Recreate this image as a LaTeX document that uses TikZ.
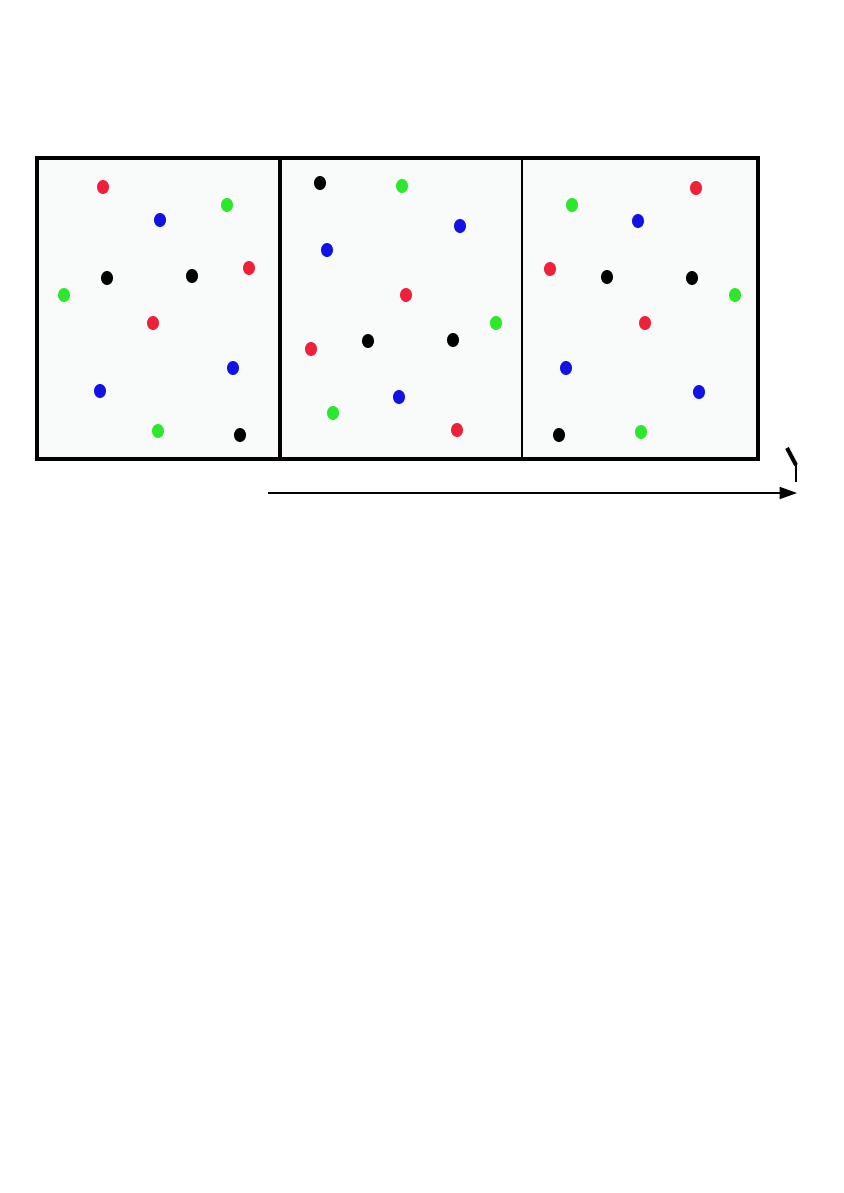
\documentclass[tikz,border=0pt]{standalone}
\usetikzlibrary{arrows.meta}
\definecolor{dotred}{RGB}{238,32,58}
\definecolor{dotgreen}{RGB}{44,232,44}
\definecolor{dotblue}{RGB}{18,18,228}
\definecolor{panelbg}{RGB}{249,251,250}
\tikzset{
  rd/.style={fill=dotred},
  gr/.style={fill=dotgreen},
  bl/.style={fill=dotblue},
  bk/.style={fill=black}
}
\newcommand{\dotat}[3]{\path[#1] (#2,#3) ellipse [x radius=6, y radius=7];}
\begin{document}
\begin{tikzpicture}[x=0.75pt,y=-0.75pt]
\useasboundingbox (0,0) rectangle (843,1193);
\fill[white] (0,0) rectangle (843,1193);
% panels
\fill[panelbg] (37,158) rectangle (758,459);
% borders
\draw[black, line width=3pt] (37,158) rectangle (280,459);
\draw[black, line width=3pt] (280,158) -- (522,158);
\draw[black, line width=3pt] (280,459) -- (522,459);
\draw[black, line width=1.3pt] (522,158) -- (522,459);
\draw[black, line width=3pt] (522,158) -- (758,158) -- (758,459) -- (522,459);
% panel 1 dots
\dotat{rd}{103}{187} \dotat{bl}{160}{220} \dotat{gr}{227}{205}
\dotat{bk}{107}{278} \dotat{bk}{192}{276} \dotat{rd}{249}{268}
\dotat{gr}{64}{295} \dotat{rd}{153}{323} \dotat{bl}{233}{368}
\dotat{bl}{100}{391} \dotat{gr}{158}{431} \dotat{bk}{240}{435}
% panel 2 dots
\dotat{bk}{320}{183} \dotat{gr}{402}{186} \dotat{bl}{460}{226}
\dotat{bl}{327}{250} \dotat{rd}{406}{295} \dotat{gr}{496}{323}
\dotat{rd}{311}{349} \dotat{bk}{368}{341} \dotat{bk}{453}{340}
\dotat{bl}{399}{397} \dotat{gr}{333}{413} \dotat{rd}{457}{430}
% panel 3 dots
\dotat{gr}{572}{205} \dotat{rd}{696}{188} \dotat{bl}{638}{221}
\dotat{rd}{550}{269} \dotat{bk}{607}{277} \dotat{bk}{692}{278}
\dotat{gr}{735}{295} \dotat{rd}{645}{323} \dotat{bl}{566}{368}
\dotat{bl}{699}{392} \dotat{bk}{559}{435} \dotat{gr}{641}{432}
% arrow
\coordinate (a0) at (268,493);
\coordinate (a1) at (797,493);
\draw[line width=1pt, -{Triangle[length=13pt,width=9pt]}] (a0) -- (a1);
% partial mark at right
\draw[line width=3pt] (787,448) -- (796,465);
\draw[line width=1.6pt] (796,462) -- (796,482);
\end{tikzpicture}
\end{document}
